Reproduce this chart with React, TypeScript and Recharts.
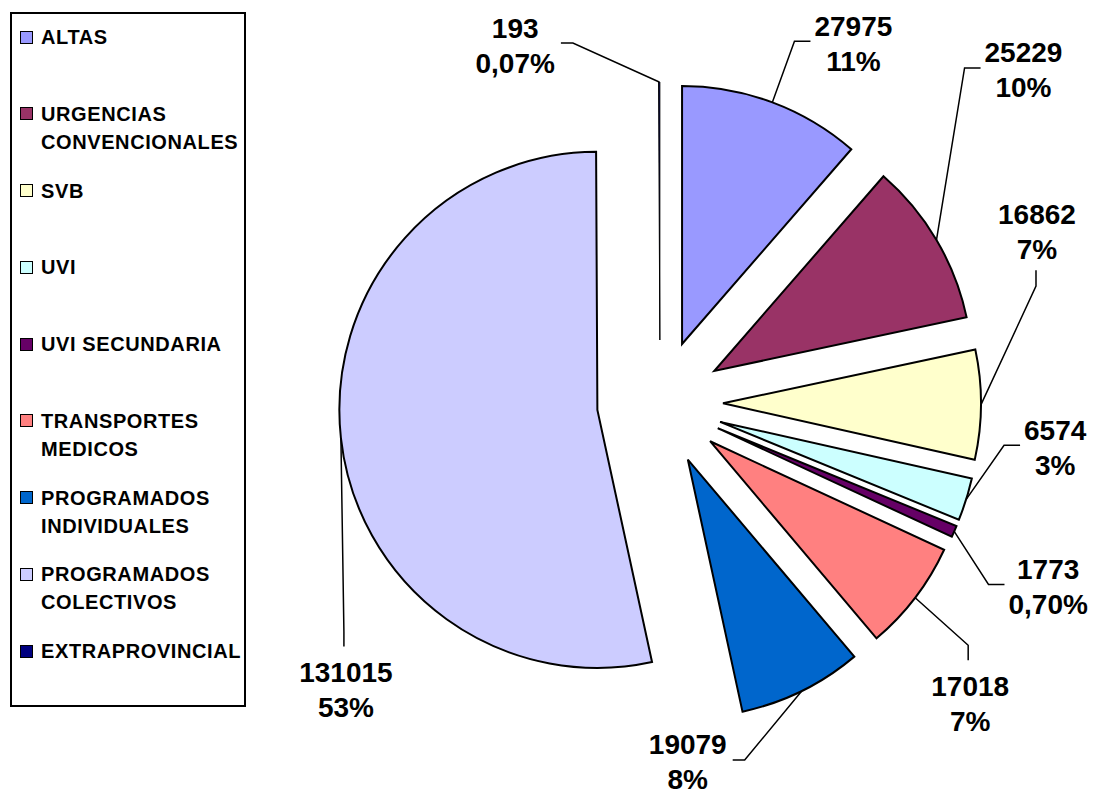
import React from "react";
import { PieChart, Pie, Cell, Sector, Legend } from "recharts";

const categories = [
  "ALTAS",
  "URGENCIAS CONVENCIONALES",
  "SVB",
  "UVI",
  "UVI SECUNDARIA",
  "TRANSPORTES MEDICOS",
  "PROGRAMADOS INDIVIDUALES",
  "PROGRAMADOS COLECTIVOS",
  "EXTRAPROVINCIAL",
];
const values = [27975, 25229, 16862, 6574, 1773, 17018, 19079, 131015, 193];
const percentLabels = ["11%", "10%", "7%", "3%", "0,70%", "7%", "8%", "53%", "0,07%"];
const colors = [
  "#9999FF",
  "#993366",
  "#FFFFCC",
  "#CCFFFF",
  "#660066",
  "#FF8080",
  "#0066CC",
  "#CCCCFF",
  "#000080",
];

// where each label block sits relative to its slice's outer midpoint,
// and which side of the block the leader line enters
const labelPlacement = [
  { dx: 81, dy: -59, side: "left" },
  { dx: 87, dy: -170, side: "left" },
  { dx: 56, dy: -173, side: "bottom" },
  { dx: 89, dy: -52, side: "left" },
  { dx: 94, dy: 55, side: "left" },
  { dx: 55, dy: 106, side: "top" },
  { dx: -114, dy: 71, side: "right" },
  { dx: 5, dy: 252, side: "top" },
  { dx: -144, dy: -37, side: "right" },
];

const data = categories.map((name, i) => ({ name, value: values[i] }));

const RAD = Math.PI / 180;
const EXPLODE = 63;
const FONT = '"Liberation Sans", Arial, sans-serif';
const LABEL_SIZE = 28;
const W = 1093;
const H = 796;

function textWidth(s: string) {
  let w = 0;
  for (const ch of s) {
    if (ch === "%") w += 0.889;
    else if (ch === ",") w += 0.278;
    else w += 0.556;
  }
  return w * LABEL_SIZE;
}

function ExplodedSector(props: any) {
  const { cx, cy, midAngle } = props;
  const ox = EXPLODE * Math.cos(-midAngle * RAD);
  const oy = EXPLODE * Math.sin(-midAngle * RAD);
  return <Sector {...props} cx={cx + ox} cy={cy + oy} />;
}

function renderLabel(props: any) {
  const { cx, cy, midAngle, outerRadius, index } = props;
  const r = outerRadius + EXPLODE;
  const ax = cx + r * Math.cos(-midAngle * RAD);
  const ay = cy + r * Math.sin(-midAngle * RAD);
  const p = labelPlacement[index];
  const bx = ax + p.dx;
  const by = ay + p.dy;
  const line1 = String(values[index]);
  const line2 = percentLabels[index];
  const hw = Math.max(textWidth(line1), textWidth(line2)) / 2;

  let ex = bx;
  let ey = by;
  let kx = bx;
  let ky = by;
  if (p.side === "left") {
    ex = bx - hw - 4;
    ey = by - 2;
    kx = ex - 16;
    ky = ey;
  } else if (p.side === "right") {
    ex = bx + hw + 6;
    ey = by - 2;
    kx = ex + 12;
    ky = ey;
  } else if (p.side === "top") {
    ex = bx - 2;
    ey = by - 43.5;
    kx = ex;
    ky = ey - 15;
  } else {
    ex = bx - 1;
    ey = by + 38.5;
    kx = ex;
    ky = ey + 16;
  }

  return (
    <g key={`label-${index}`}>
      <polyline
        points={`${ax},${ay} ${kx},${ky} ${ex},${ey}`}
        fill="none"
        stroke="#000"
        strokeWidth={1.5}
      />
      <text
        x={bx}
        y={by - 7.5}
        textAnchor="middle"
        fontFamily={FONT}
        fontWeight="bold"
        fontSize={LABEL_SIZE}
        fill="#000"
      >
        {line1}
      </text>
      <text
        x={bx}
        y={by + 27.5}
        textAnchor="middle"
        fontFamily={FONT}
        fontWeight="bold"
        fontSize={LABEL_SIZE}
        fill="#000"
      >
        {line2}
      </text>
    </g>
  );
}

function LegendBox() {
  const slot = (695 - 4) / categories.length;
  return (
    <div
      style={{
        boxSizing: "border-box",
        width: 236,
        height: 695,
        border: "2px solid #000",
        background: "#fff",
        fontFamily: FONT,
        fontWeight: "bold",
        fontSize: 20,
        letterSpacing: 0.6,
        color: "#000",
      }}
    >
      {categories.map((c, i) => (
        <div
          key={c}
          style={{
            position: "relative",
            boxSizing: "border-box",
            height: slot,
            paddingTop: 9,
            paddingLeft: 29,
            paddingRight: 0,
            lineHeight: "28px",
          }}
        >
          <span
            style={{
              position: "absolute",
              left: 8,
              top: 16.5,
              width: 11,
              height: 11,
              background: colors[i],
              border: "1px solid #000",
            }}
          />
          {c}
        </div>
      ))}
    </div>
  );
}

export default function App() {
  return (
    <div
      style={{
        position: "absolute",
        left: 0,
        top: 0,
        width: W,
        height: H,
        overflow: "hidden",
        background: "#fff",
      }}
    >
      <PieChart width={W} height={H} margin={{ top: 0, right: 0, bottom: 0, left: 0 }}>
        <Legend
          verticalAlign="bottom"
          layout="horizontal"
          wrapperStyle={{ position: "absolute", left: 10, top: 12, bottom: "auto", width: 236, height: 695 }}
          content={() => <LegendBox />}
        />
        <Pie
          data={data}
          dataKey="value"
          nameKey="name"
          cx={660}
          cy={403}
          outerRadius={258}
          startAngle={90}
          endAngle={-270}
          stroke="#000"
          strokeWidth={2}
          isAnimationActive={false}
          label={renderLabel}
          labelLine={false}
          shape={ExplodedSector}
          inactiveShape={ExplodedSector}
          activeShape={ExplodedSector}
        >
          {data.map((d, i) => (
            <Cell
              key={d.name}
              fill={colors[i]}
              strokeWidth={d.name === "EXTRAPROVINCIAL" ? 1 : 2}
            />
          ))}
        </Pie>
      </PieChart>
    </div>
  );
}
